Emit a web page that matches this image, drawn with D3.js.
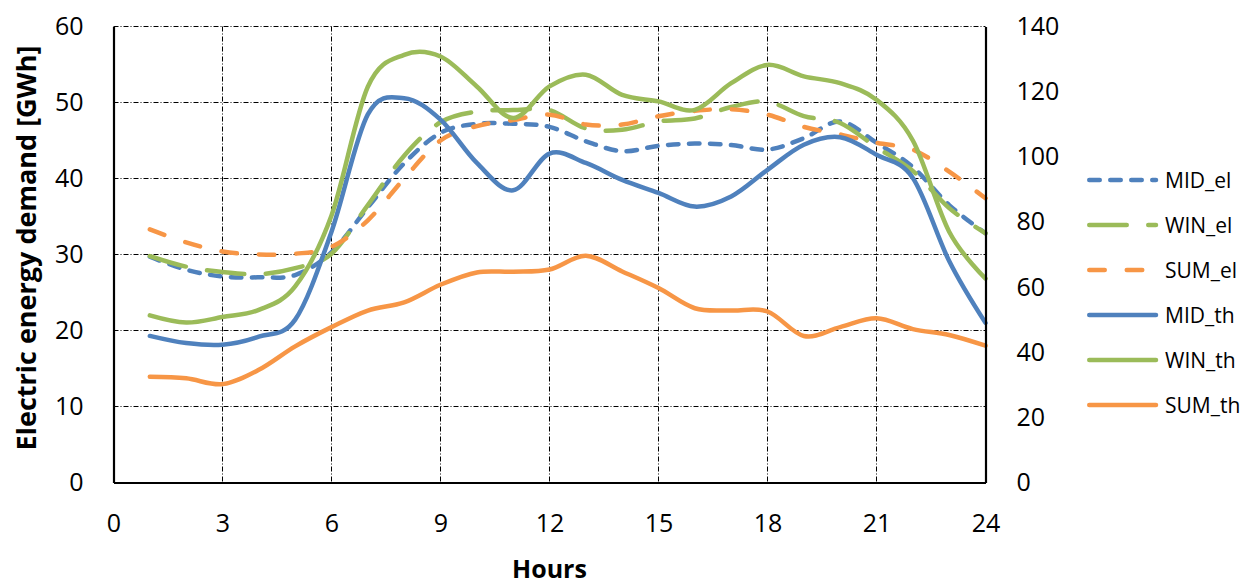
<!DOCTYPE html>
<html>
<head>
<meta charset="utf-8">
<script src="https://cdn.jsdelivr.net/npm/d3@7"></script>
<style>
  body { margin: 0; background: #fff; }
  text { font-family: "Open Sans", sans-serif; fill: #000; }
</style>
</head>
<body>
<div id="chart"></div>
<script>
const hours = [1, 2, 3, 4, 5, 6, 7, 8, 9, 10, 11, 12, 13, 14, 15, 16, 17, 18, 19, 20, 21, 22, 23, 24];

// electric demand, left axis [GWh]
const mid_el = [29.7, 28.0, 27.1, 27.0, 27.3, 30.3, 36.2, 42.0, 46.0, 47.2, 47.2, 46.8, 44.9, 43.6, 44.3, 44.6, 44.4, 43.8, 45.3, 47.5, 44.7, 41.5, 36.5, 32.8];
const win_el = [29.8, 28.4, 27.7, 27.4, 28.2, 30.1, 36.5, 43.0, 47.4, 48.8, 49.0, 49.0, 46.6, 46.4, 47.5, 47.9, 49.4, 50.1, 48.2, 47.3, 44.1, 41.0, 36.1, 32.8];
const sum_el = [33.3, 31.6, 30.4, 30.0, 30.1, 31.0, 34.5, 40.0, 45.0, 46.9, 47.7, 48.4, 47.1, 47.1, 48.2, 48.9, 49.1, 48.4, 46.8, 45.8, 44.7, 43.8, 40.9, 37.4];

// thermal demand, right axis
const mid_th = [45.0, 42.8, 42.3, 44.8, 50.0, 77.0, 113.0, 118.0, 111.4, 98.1, 89.7, 101.0, 98.1, 92.9, 88.9, 84.7, 87.8, 96.0, 103.7, 106.0, 100.6, 93.5, 68.0, 49.0];
const win_th = [51.3, 49.1, 50.8, 53.0, 60.2, 82.0, 121.5, 131.3, 130.8, 121.6, 111.9, 121.6, 125.2, 119.0, 117.0, 114.4, 122.6, 128.2, 124.7, 122.6, 117.5, 105.0, 77.0, 62.6];
const sum_th = [32.5, 32.0, 30.2, 34.6, 41.8, 47.7, 52.8, 55.3, 60.7, 64.5, 64.7, 65.4, 69.6, 64.8, 59.7, 53.5, 52.8, 52.5, 45.0, 47.7, 50.4, 47.1, 45.3, 42.0];

const x_ticks = [0, 3, 6, 9, 12, 15, 18, 21, 24];
const y_left_ticks = [0, 10, 20, 30, 40, 50, 60];
const y_right_ticks = [0, 20, 40, 60, 80, 100, 120, 140];

const c_blue = '#4F81BD',
	c_green = '#9BBB59',
	c_orange = '#F79646';

const series = [
	{ name: "MID_el", values: mid_el, axis: "left", color: c_blue, dash: "10.5,10.5" },
	{ name: "WIN_el", values: win_el, axis: "left", color: c_green, dash: "37.5,21.5" },
	{ name: "SUM_el", values: sum_el, axis: "left", color: c_orange, dash: "15.5,22" },
	{ name: "MID_th", values: mid_th, axis: "right", color: c_blue, dash: null },
	{ name: "WIN_th", values: win_th, axis: "right", color: c_green, dash: null },
	{ name: "SUM_th", values: sum_th, axis: "right", color: c_orange, dash: null }
];

const W = 1252, H = 584;
const margin = { top: 26.5, left: 113.5, bottom: 101.5, right: 266.5 };
const width = W - margin.left - margin.right,
	height = H - margin.top - margin.bottom;

let svg = d3.select("#chart")
	.append("svg")
	.attr("width", W)
	.attr("height", H);

let plot = svg.append("g")
	.attr("transform", "translate(" + margin.left + "," + margin.top + ")");

// scales
let x = d3.scaleLinear().domain([0, 24]).range([0, width]);
let y_left = d3.scaleLinear().domain([0, 60]).range([height, 0]);
let y_right = d3.scaleLinear().domain([0, 140]).range([height, 0]);

// grid
const grid_dash = "5,2,1,2";
let grid = plot.append("g").attr("id", "grid");

grid.selectAll("line.h")
	.data(y_left_ticks.filter(d => d > 0))
	.enter()
	.append("line")
	.attr("class", "h")
	.attr("x1", 0)
	.attr("x2", width)
	.attr("y1", d => y_left(d))
	.attr("y2", d => y_left(d))
	.attr("stroke", "#000")
	.attr("stroke-width", 1)
	.attr("stroke-dasharray", grid_dash);

grid.selectAll("line.v")
	.data(x_ticks.filter(d => d > 0 && d < 24))
	.enter()
	.append("line")
	.attr("class", "v")
	.attr("x1", d => x(d))
	.attr("x2", d => x(d))
	.attr("y1", 0)
	.attr("y2", height)
	.attr("stroke", "#000")
	.attr("stroke-width", 1)
	.attr("stroke-dasharray", grid_dash);

// lines
let line_left = d3.line()
	.x((d, i) => x(hours[i]))
	.y(d => y_left(d))
	.curve(d3.curveCatmullRom.alpha(0));

let line_right = d3.line()
	.x((d, i) => x(hours[i]))
	.y(d => y_right(d))
	.curve(d3.curveCatmullRom.alpha(0));

plot.append("g")
	.attr("id", "lines")
	.selectAll("path")
	.data(series)
	.enter()
	.append("path")
	.attr("d", d => d.axis == "left" ? line_left(d.values) : line_right(d.values))
	.attr("fill", "none")
	.attr("stroke", d => d.color)
	.attr("stroke-width", 4.5)
	.attr("stroke-linecap", "round")
	.attr("stroke-linejoin", "round")
	.attr("stroke-dasharray", d => d.dash);

// axis
const tick_font = 25;

let axis_left = plot.append("g")
	.call(d3.axisLeft(y_left)
		.tickValues(y_left_ticks)
		.tickSize(0)
		.tickPadding(30));

let axis_right = plot.append("g")
	.attr("transform", "translate(" + width + ",0)")
	.call(d3.axisRight(y_right)
		.tickValues(y_right_ticks)
		.tickSize(0)
		.tickPadding(31));

let axis_bottom = plot.append("g")
	.attr("transform", "translate(0," + height + ")")
	.call(d3.axisBottom(x)
		.tickValues(x_ticks)
		.tickSize(0)
		.tickPadding(32));

[axis_left, axis_right, axis_bottom].forEach(a => {
	a.select(".domain")
		.attr("stroke", "#000")
		.attr("stroke-width", 2.2);
	a.selectAll("text")
		.style("font-family", "'Open Sans', sans-serif")
		.style("font-size", tick_font + "px")
		.attr("fill", "#000");
});

// titles
svg.append("text")
	.attr("x", margin.left + width / 2)
	.attr("y", 578)
	.attr("text-anchor", "middle")
	.style("font-size", "25px")
	.style("font-weight", "bold")
	.text("Hours");

svg.append("text")
	.attr("transform", "translate(36," + 248 + ") rotate(-90)")
	.attr("text-anchor", "middle")
	.style("font-size", "27px")
	.style("font-weight", "bold")
	.text("Electric energy demand [GWh]");

// legend
let legend = svg.append("g")
	.attr("id", "legend")
	.attr("transform", "translate(1087,180)");

let item = legend.selectAll("g")
	.data(series)
	.enter()
	.append("g")
	.attr("transform", (d, i) => "translate(0," + (i * 45) + ")");

item.append("line")
	.attr("x1", 2.25)
	.attr("x2", 69)
	.attr("y1", 0)
	.attr("y2", 0)
	.attr("stroke", d => d.color)
	.attr("stroke-width", 4.5)
	.attr("stroke-linecap", "round")
	.attr("stroke-dasharray", d => d.dash);

item.append("text")
	.attr("x", 78)
	.attr("y", 0)
	.attr("dy", "0.36em")
	.style("font-size", "21px")
	.text(d => d.name);
</script>
</body>
</html>
